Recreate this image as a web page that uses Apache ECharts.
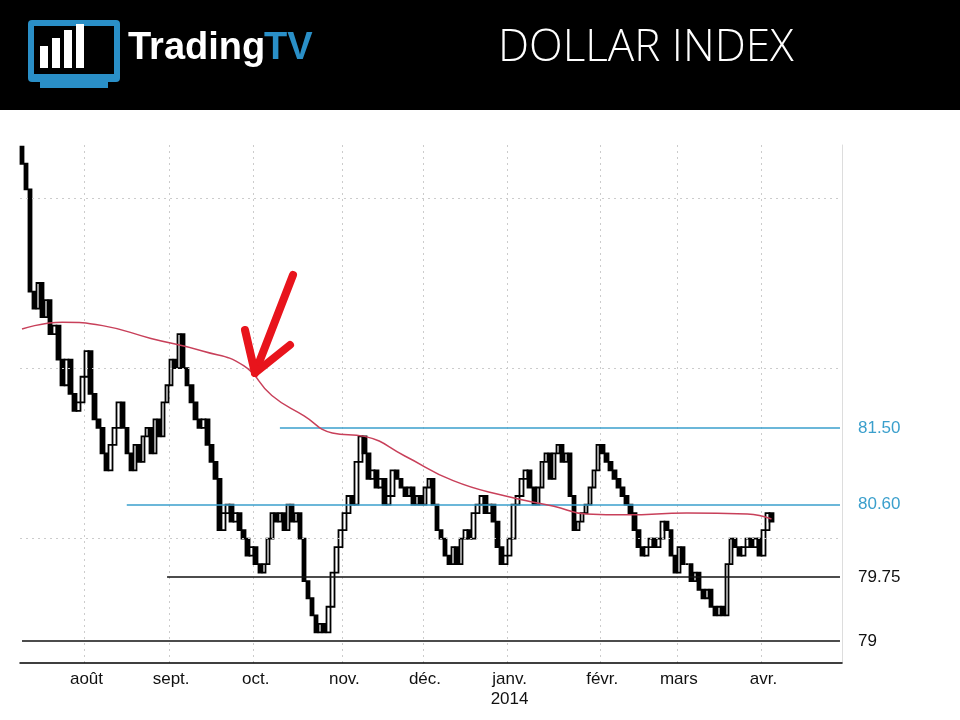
<!DOCTYPE html><html><head><meta charset="utf-8"><script src="https://cdn.jsdelivr.net/npm/echarts@6/dist/echarts.min.js"></script>
<style>body{margin:0;background:#fff}#c{width:960px;height:720px}</style></head><body><div id="c"></div><script>
const closes=[84.6,84.3,83.1,82.9,83.2, 82.8,83.0,82.6,82.7,82.3, 82.0,82.3,81.9,81.7,81.8, 82.1,82.4,81.9,81.6,81.5,
81.2,81.0,81.3,81.5,81.8, 81.5,81.2,81.0,81.3,81.1, 81.4,81.5,81.2,81.6,81.4, 81.8,82.0,82.3,82.2,82.6,
82.2,82.0,81.8,81.6,81.5, 81.6,81.3,81.1,80.9,80.3, 80.5,80.6,80.4,80.5,80.3, 80.2,80.0,80.1,79.9,79.8,
79.9,80.2,80.5,80.4,80.5, 80.3,80.6,80.4,80.5,80.2, 79.7,79.5,79.3,79.1,79.2, 79.1,79.4,79.8,80.1,80.3,
80.5,80.7,80.6,81.1,81.4, 81.2,80.9,81.0,80.8,80.9, 80.6,80.7,81.0,80.9,80.8, 80.7,80.8,80.6,80.7,80.6,
80.8,80.9,80.6,80.3,80.2, 80.0,79.9,80.1,79.9,80.2, 80.3,80.2,80.5,80.6,80.7, 80.5,80.6,80.4,80.1,79.9,
80.0,80.2,80.6,80.7,80.9, 81.0,80.8,80.6,80.8,81.1, 81.2,80.9,81.2,81.3,81.1, 81.2,80.7,80.3,80.4,80.5,
80.6,80.8,81.0,81.3,81.2, 81.1,81.0,80.9,80.8,80.7, 80.6,80.5,80.3,80.1,80.0, 80.1,80.2,80.1,80.2,80.4,
80.3,80.0,79.8,80.1,79.9, 79.9,79.7,79.8,79.6,79.5, 79.6,79.4,79.3,79.4,79.3, 79.9,80.2,80.1,80.0,80.1,
80.2,80.1,80.2,80.0,80.3, 80.5,80.4];
const firstOpen=84.8;
const maIdx=[0,10,20,32,45,55,62,70,77,85,95,107,120,132,140,150,165,180,186];
const maVal=[82.66,82.74,82.7,82.55,82.4,82.23,81.88,81.64,81.44,81.4,81.17,80.88,80.7,80.58,80.49,80.48,80.5,80.49,80.43];
const monthLabels={16:'août',37:'sept.',58:'oct.',80:'nov.',100:'déc.',121:'janv.\n2014',144:'févr.',163:'mars',184:'avr.'};
const levels=[{v:81.5,s:64,c:'#3a9fcc',t:'81.50'},{v:80.6,s:26,c:'#3a9fcc',t:'80.60'},{v:79.75,s:36,c:'#111',t:'79.75'},{v:79,s:0,c:'#111',t:'79'}];
const N=204;
const cats=[];for(let i=0;i<N;i++)cats.push(i);
const ohlc=closes.map((c,i)=>{const o=i?closes[i-1]:firstOpen;return [o,c,Math.min(o,c),Math.max(o,c)];});
const ma=new Array(N).fill(null);maIdx.forEach((k,j)=>ma[k]=maVal[j]);
const ch=echarts.init(document.getElementById('c'));
ch.setOption({animation:false,
grid:{left:20,right:118,top:145,bottom:57},
xAxis:{type:'category',data:cats,boundaryGap:true,axisLine:{lineStyle:{color:'#000',width:1.5}},axisTick:{show:false},
 axisLabel:{interval:i=>monthLabels[i]!==undefined,formatter:v=>monthLabels[v]||'',color:'#111',fontSize:17,fontFamily:'Arial',margin:6,lineHeight:20},
 splitLine:{show:true,interval:i=>monthLabels[i]!==undefined,lineStyle:{color:'#ccc',type:[2,4]}}},
yAxis:{type:'value',position:'right',min:78.74,max:84.82,axisLine:{show:true,lineStyle:{color:'#ddd'}},axisTick:{show:false},axisLabel:{show:false},splitLine:{show:false}},
series:[
{type:'candlestick',data:ohlc,barWidth:4,itemStyle:{color:'#fff',color0:'#000',borderColor:'#000',borderColor0:'#000',borderWidth:1.8},
 markLine:{symbol:'none',silent:true,data:[
  ...[80.2,82.2,84.2].map(v=>({yAxis:v,lineStyle:{color:'#ccc',type:[2,4],width:1},label:{show:false}})),
  ...levels.map(l=>[{coord:[l.s,l.v],lineStyle:{color:l.c,width:1.5,type:'solid'},label:{show:true,position:'end',formatter:l.t,color:l.c,fontSize:17,fontFamily:'Arial',distance:18}},{coord:[N-1,l.v]}])
 ]}},
{type:'line',data:ma,connectNulls:true,smooth:true,symbol:'none',lineStyle:{color:'#c8405a',width:1.5},z:5}
],
graphic:[
{type:'rect',shape:{x:0,y:0,width:960,height:110},style:{fill:'#000'}},
{type:'rect',shape:{x:28,y:20,width:92,height:62,r:4},style:{fill:'#2a8fc7'}},
{type:'rect',shape:{x:34,y:26,width:80,height:48},style:{fill:'#000'}},
{type:'rect',shape:{x:40,y:46,width:8,height:22},style:{fill:'#fff'}},
{type:'rect',shape:{x:52,y:38,width:8,height:30},style:{fill:'#fff'}},
{type:'rect',shape:{x:64,y:30,width:8,height:38},style:{fill:'#fff'}},
{type:'rect',shape:{x:76,y:24,width:8,height:44},style:{fill:'#fff'}},
{type:'rect',shape:{x:40,y:82,width:68,height:6},style:{fill:'#2a8fc7'}},
{type:'text',x:128,y:30,style:{text:'Trading',fill:'#fff',font:'bold 38px Arial'}},
{type:'text',x:264,y:30,style:{text:'TV',fill:'#2a8fc7',font:'bold 38px Arial'}},
{type:'text',x:498,y:26,style:{text:'DOLLAR INDEX',fill:'#fff',font:'300 44px "Open Sans","Lato"'}},
{type:'polyline',shape:{points:[[293,275],[255,373]]},style:{stroke:'#e8141c',lineWidth:8,lineCap:'round',fill:null},z:10},
{type:'polyline',shape:{points:[[245,330],[255,373],[290,345]]},style:{stroke:'#e8141c',lineWidth:8,lineCap:'round',lineJoin:'round',fill:null},z:10}
]});
</script></body></html>
